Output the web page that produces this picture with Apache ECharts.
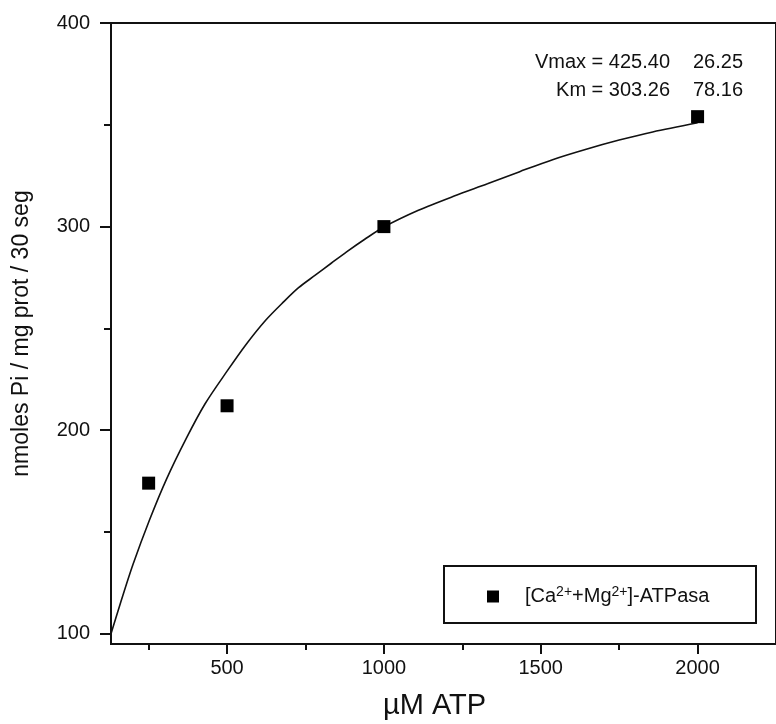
<!DOCTYPE html>
<html>
<head>
<meta charset="utf-8">
<script src="https://cdn.jsdelivr.net/npm/echarts@6/dist/echarts.min.js"></script>
<style>
  html, body { margin: 0; padding: 0; background: #fff; }
  #chart { width: 776px; height: 724px; }
</style>
</head>
<body>
<div id="chart"></div>
<script>
// measured points (µM ATP, nmoles Pi)
const atpConc = [250, 500, 1000, 2000];
const activity = [174, 212, 300, 354];

// fitted curve
const curveX = [130, 160, 200, 253, 307, 370, 430, 500, 560, 623, 680, 728, 780, 832, 880, 939, 1000,
  1110, 1224, 1330, 1433, 1540, 1645, 1750, 1857, 2000];
const curveY = [100, 115, 134, 156, 176, 196, 213, 229, 242, 254, 263, 270, 276, 282, 287.5, 293.8, 299.8,
  308, 315, 321, 327, 333, 338, 342.5, 346.5, 351];

// ticks
const xMajor = [500, 1000, 1500, 2000];
const xMinor = [250, 750, 1250, 1750];
const yMajor = [100, 200, 300, 400];
const yMinor = [150, 250, 350];

const seriesName = '[Ca2++Mg2+]-ATPasa';
const fitText = [['Vmax = 425.40', '26.25'], ['Km = 303.26', '78.16']];

const font = '"Liberation Sans", Arial, sans-serif';
const ink = '#111';

const chart = echarts.init(document.getElementById('chart'));

const xBase = { type: 'value', min: 130, max: 2250, splitLine: { show: false } };
const yBase = { type: 'value', min: 95, max: 400, splitLine: { show: false } };

chart.setOption({
  animation: false,
  backgroundColor: '#fff',
  grid: {
    left: 111, right: -5, top: 23, bottom: 80,
    show: true, borderColor: ink, borderWidth: 2, backgroundColor: 'transparent'
  },
  xAxis: [
    Object.assign({}, xBase, {
      axisLine: { lineStyle: { color: ink, width: 2 } },
      axisTick: { length: 10, customValues: xMajor, lineStyle: { color: ink, width: 2 } },
      axisLabel: { customValues: xMajor, margin: 14, fontSize: 20, color: ink, fontFamily: font,
        formatter: v => String(v) }
    }),
    Object.assign({}, xBase, {
      position: 'bottom',
      axisLine: { show: false },
      axisTick: { length: 6, customValues: xMinor, lineStyle: { color: ink, width: 2 } },
      axisLabel: { show: false }
    })
  ],
  yAxis: [
    Object.assign({}, yBase, {
      name: 'nmoles Pi / mg prot / 30 seg',
      nameLocation: 'middle',
      nameGap: 78,
      nameTextStyle: { fontSize: 23, color: ink, fontFamily: font },
      axisLine: { lineStyle: { color: ink, width: 2 } },
      axisTick: { length: 11, customValues: yMajor, lineStyle: { color: ink, width: 2 } },
      axisLabel: { customValues: yMajor, margin: 21, fontSize: 20, color: ink, fontFamily: font,
        formatter: v => String(v) }
    }),
    Object.assign({}, yBase, {
      position: 'left',
      axisLine: { show: false },
      axisTick: { length: 7, customValues: yMinor, lineStyle: { color: ink, width: 2 } },
      axisLabel: { show: false }
    })
  ],
  legend: {
    data: [seriesName],
    left: 482, top: 580,
    icon: 'rect', itemWidth: 12, itemHeight: 12,
    itemStyle: { color: '#000', opacity: 1 },
    formatter: () => '[Ca{sup|2+}+Mg{sup|2+}]-ATPasa',
    textStyle: {
      fontSize: 20, color: ink, fontFamily: font, padding: [0, 0, 0, 21],
      rich: { sup: { fontSize: 14, color: ink, fontFamily: font, verticalAlign: 'top', padding: [0, 0, 9, 0] } }
    }
  },
  graphic: [
    { type: 'rect', left: 443, top: 565, shape: { width: 312, height: 57 },
      style: { fill: 'transparent', stroke: ink, lineWidth: 2 }, z: 10 },
    { type: 'text', right: 776 - 670, top: 52,
      style: { text: fitText[0][0], font: '20px ' + font, fill: ink } },
    { type: 'text', right: 776 - 743, top: 52,
      style: { text: fitText[0][1], font: '20px ' + font, fill: ink } },
    { type: 'text', right: 776 - 670, top: 80,
      style: { text: fitText[1][0], font: '20px ' + font, fill: ink } },
    { type: 'text', right: 776 - 743, top: 80,
      style: { text: fitText[1][1], font: '20px ' + font, fill: ink } },
    { type: 'text', x: 383, y: 706,
      style: { text: 'µM ATP', font: '29px ' + font, fill: ink, verticalAlign: 'middle' } }
  ],
  series: [
    {
      type: 'line',
      data: curveX.map((x, i) => [x, curveY[i]]),
      smooth: 0.3,
      showSymbol: false,
      lineStyle: { color: ink, width: 1.6 },
      z: 2
    },
    {
      name: seriesName,
      type: 'scatter',
      data: atpConc.map((x, i) => [x, activity[i]]),
      symbol: 'rect',
      symbolSize: 13,
      itemStyle: { color: '#000', opacity: 1 },
      z: 3
    }
  ]
});
</script>
</body>
</html>
